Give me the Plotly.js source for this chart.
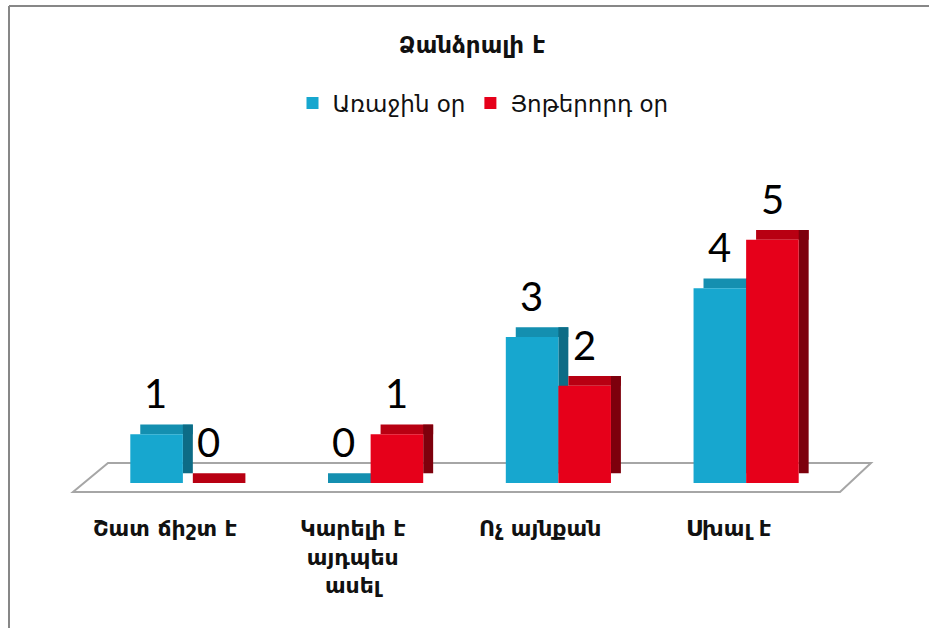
<!DOCTYPE html>
<html>
<head>
<meta charset="utf-8">
<script src="https://cdn.plot.ly/plotly-3.0.1.min.js"></script>
<style>html,body{margin:0;padding:0;background:#fff;}#chart{width:929px;height:628px;}</style>
</head>
<body>
<div id="chart"></div>
<script>
// ---- data ----
const categories = ["Շատ ճիշտ է", "Կարելի է այդպես ասել", "Ոչ այնքան", "Սխալ է"];
const tickLabels = ["Շատ ճիշտ է", "Կարելի է<br>այդպես<br>ասել", "Ոչ այնքան", "Սխալ է"];
const seriesNames = ["Առաջին օր", "Յոթերորդ օր"];
const day1 = [1, 0, 3, 4];
const day7 = [0, 1, 2, 5];
const chartTitle = "Ձանձրալի է";

// ---- styling ----
const W = 929, H = 628;
const L = 89, R = 840, T = 191, B = 483;
const pw = R - L, ph = B - T;
const px = v => (v - L) / pw;
const py = v => (B - v) / ph;

const armFont = "DejaVu Sans, Noto Sans, sans-serif";
const numFont = "Lato, Liberation Sans, sans-serif";

const bw = 0.28, side = 0.053, depth = 0.2;
const series = [
  {name: seriesNames[0], y: day1, off: -bw, front: "#17a7cf", top: "#148fb0", side: "#0d6c86", shift: -27},
  {name: seriesNames[1], y: day7, off: 0, front: "#e6001a", top: "#b80012", side: "#7d000c", shift: 26}
];

const traces = [];
series.forEach(s => {
  traces.push({
    type: "bar", x: categories, y: s.y.map(() => depth), base: s.y,
    offset: s.off + side, width: bw, marker: {color: s.top}, showlegend: false, hoverinfo: "skip"
  });
  traces.push({
    type: "bar", x: categories, y: s.y, base: s.y.map(() => depth),
    offset: s.off + bw, width: side, marker: {color: s.side}, showlegend: false, hoverinfo: "skip"
  });
  traces.push({
    type: "bar", x: categories, y: s.y, name: s.name,
    offset: s.off, width: bw, marker: {color: s.front}, showlegend: true
  });
});

const annotations = [];
series.forEach(s => {
  categories.forEach((c, i) => {
    annotations.push({
      xref: "x", yref: "y", x: c, y: s.y[i], yshift: 41, xshift: s.shift,
      text: String(s.y[i]), showarrow: false, yanchor: "middle",
      font: {family: numFont, size: 40, color: "#000"}
    });
  });
});
categories.forEach((c, i) => {
  annotations.push({
    xref: "x", yref: "paper", x: c, y: py(514), yanchor: "top", xshift: -18,
    text: "<b>" + tickLabels[i] + "</b>", showarrow: false, align: "center",
    font: {family: armFont, size: 22, color: "#111"}
  });
});

const shapes = [
  // floor
  {type: "path", xref: "paper", yref: "paper", layer: "below",
   path: `M${px(108)},${py(463)} L${px(871)},${py(463)} L${px(840)},${py(492)} L${px(73)},${py(492)} Z`,
   line: {color: "#a6a6a6", width: 2}, fillcolor: "#ffffff"},
  // frame (top and left)
  {type: "line", xref: "paper", yref: "paper", x0: px(9), x1: px(929), y0: py(6), y1: py(6),
   line: {color: "#878787", width: 2}},
  {type: "line", xref: "paper", yref: "paper", x0: px(9), x1: px(9), y0: py(6), y1: py(628),
   line: {color: "#878787", width: 2}}
];

const layout = {
  width: W, height: H,
  margin: {l: L, r: W - R, t: T, b: H - B, pad: 0},
  paper_bgcolor: "#fff", plot_bgcolor: "rgba(0,0,0,0)",
  barmode: "overlay",
  title: {text: "<b>" + chartTitle + "</b>", x: 472 / W, xanchor: "center", y: 1 - 45 / H, yanchor: "middle",
          font: {family: armFont, size: 23, color: "#111"}},
  showlegend: true,
  legend: {orientation: "h", x: px(483), xanchor: "center", y: py(103), yanchor: "middle",
           font: {family: armFont, size: 23, color: "#111"}, bgcolor: "rgba(0,0,0,0)",
           traceorder: "normal", itemclick: false},
  xaxis: {type: "category", range: [-0.5, 3.5], showgrid: false, zeroline: false, showline: false,
          showticklabels: false, ticks: "", fixedrange: true},
  yaxis: {range: [0, 6], showgrid: false, zeroline: false, showline: false, showticklabels: false,
          ticks: "", fixedrange: true},
  annotations: annotations,
  shapes: shapes
};

Plotly.newPlot("chart", traces, layout, {displayModeBar: false, staticPlot: true});
</script>
</body>
</html>
